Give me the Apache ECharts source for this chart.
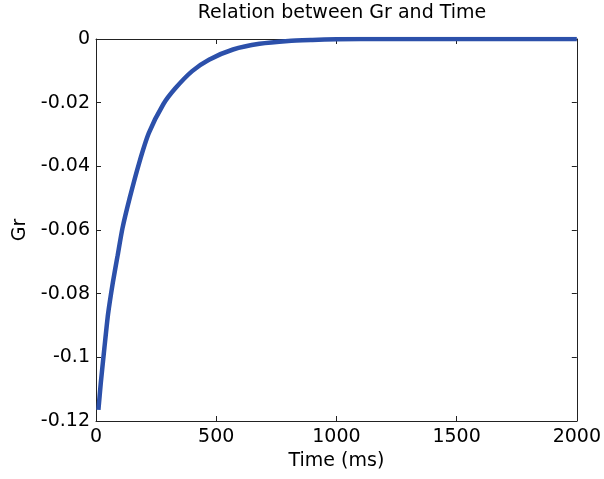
<!DOCTYPE html>
<html>
<head>
<meta charset="utf-8">
<script src="https://cdn.jsdelivr.net/npm/echarts@6/dist/echarts.min.js"></script>
<style>html,body{margin:0;padding:0;background:#fff}#c{width:604px;height:479px}</style>
</head>
<body>
<div id="c"></div>
<script>
var timeMs = [10, 20, 35, 50, 70, 90, 110, 140, 180, 220, 280, 330, 400, 470, 570, 680, 800, 900, 1000, 1200, 1500, 2000];
var grValues = [-0.1165, -0.108, -0.097, -0.0865, -0.0765, -0.068, -0.0595, -0.050, -0.0388, -0.0295, -0.0205, -0.0155, -0.0101, -0.0065, -0.0033, -0.0015, -0.0006, -0.0003, -0.0001, 0, 0, 0];
var xTicks = [0, 500, 1000, 1500, 2000];
var yTicks = [-0.12, -0.1, -0.08, -0.06, -0.04, -0.02, 0];

var pts = timeMs.map(function (t, i) { return [t, grValues[i]]; });
var font = 'DejaVu Sans, sans-serif';
var fs = 19;
var chart = echarts.init(document.getElementById('c'));
function axisCommon() {
  return {
    axisLine: { show: true, onZero: false, lineStyle: { color: '#222', width: 1 } },
    axisTick: { show: true, inside: true, length: 5, lineStyle: { color: '#222' } },
    splitLine: { show: false }
  };
}
chart.setOption({
  animation: false,
  title: {
    text: 'Relation between Gr and Time', left: 337, top: -1, textAlign: 'center',
    textStyle: { fontFamily: font, fontSize: fs, fontWeight: 'normal', color: '#000' }
  },
  grid: { left: 96, right: 23, top: 39, bottom: 58, show: false },
  xAxis: [
    Object.assign({
      type: 'value', min: xTicks[0], max: xTicks[xTicks.length - 1], interval: 500,
      name: 'Time (ms)', nameLocation: 'middle', nameGap: 30,
      nameTextStyle: { fontFamily: font, fontSize: fs, color: '#000' },
      axisLabel: { fontFamily: font, fontSize: fs, color: '#000', margin: 7,
        formatter: function (v) { return String(v); } }
    }, axisCommon()),
    Object.assign({
      type: 'value', position: 'top', min: xTicks[0], max: xTicks[xTicks.length - 1], interval: 500,
      axisLabel: { show: false }
    }, axisCommon())
  ],
  yAxis: [
    Object.assign({
      type: 'value', min: yTicks[0], max: yTicks[yTicks.length - 1], interval: 0.02,
      name: 'Gr', nameLocation: 'middle', nameGap: 64,
      nameTextStyle: { fontFamily: font, fontSize: fs, color: '#000' },
      axisLabel: { fontFamily: font, fontSize: fs, color: '#000', margin: 6,
        formatter: function (v) { return String(+v.toFixed(2)); } }
    }, axisCommon()),
    Object.assign({
      type: 'value', position: 'right', min: yTicks[0], max: yTicks[yTicks.length - 1], interval: 0.02,
      axisLabel: { show: false }
    }, axisCommon())
  ],
  series: [{
    type: 'line', data: pts, smooth: 0.2, showSymbol: false, xAxisIndex: 0, yAxisIndex: 0,
    lineStyle: { color: '#2c50aa', width: 4.5 }, z: 1
  }]
});
</script>
</body>
</html>
